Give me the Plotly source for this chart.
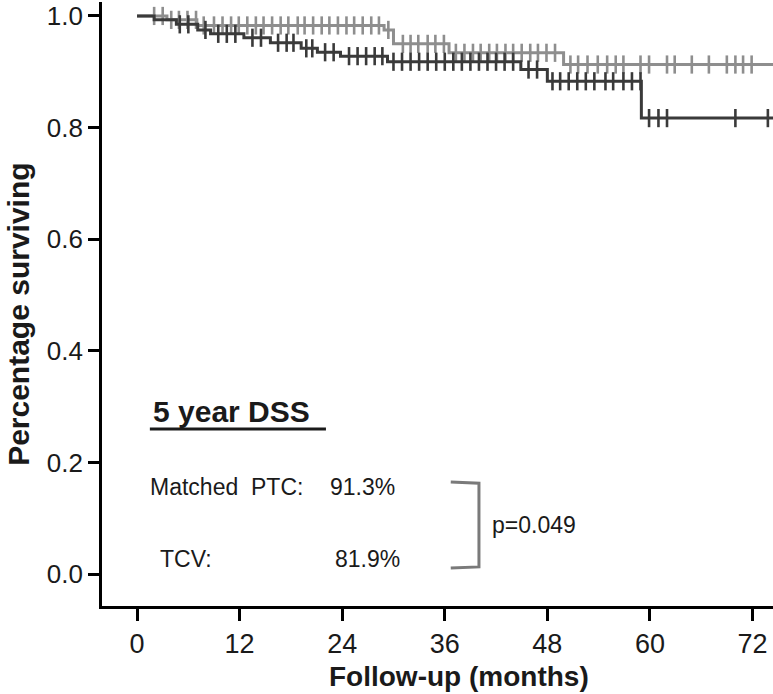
import plotly.graph_objects as go

# ---- data ----
ptc_times = [0, 3.5, 7.0, 28.9, 30.0, 36.5, 49.9, 74.4]
ptc_surv = [1.0, 0.993, 0.983, 0.975, 0.950, 0.934, 0.913, 0.913]
ptc_censored = [2.0, 3.0, 4.0, 4.9, 5.9, 6.9, 7.8, 9.0, 10.0, 11.0, 11.9, 12.9, 13.9, 14.8,
                 15.8, 16.8, 17.7, 18.8, 19.6, 20.6, 21.6, 22.5, 23.5, 24.5, 25.4, 26.4,
                 27.4, 28.3, 29.4, 31.1, 32.0, 32.9, 34.0, 34.9, 35.9, 37.3, 38.3, 39.3, 40.2,
                 41.2, 42.1, 43.1, 44.0, 45.0, 46.0, 46.9, 47.9, 48.9, 50.7, 51.6, 52.7,
                 53.9, 55.0, 56.0, 56.9, 58.9, 59.9, 62.0, 62.9, 64.9, 66.9, 69.0, 70.0,
                 70.9, 71.9]

tcv_times = [0, 2.0, 4.6, 7.1, 8.6, 12.5, 15.6, 19.2, 21.1, 23.8, 29.3, 44.9, 48.0, 59.0, 74.4]
tcv_surv = [1.0, 0.993, 0.985, 0.975, 0.968, 0.961, 0.952, 0.942, 0.935, 0.928, 0.918,
            0.904, 0.883, 0.817, 0.817]
tcv_censored = [5.0, 6.0, 8.0, 9.5, 10.5, 11.5, 13.5, 14.5, 16.5, 17.5, 18.3, 19.8, 20.5,
                22.0, 23.0, 24.8, 25.8, 26.8, 27.8, 28.7, 30.0, 31.0, 32.0, 33.0, 34.0,
                35.0, 36.0, 37.0, 38.0, 39.0, 40.0, 41.0, 42.0, 43.0, 44.0, 45.8, 46.8,
                48.6, 49.5, 50.5, 51.5, 52.5, 53.5, 54.8, 55.7, 56.9, 57.9, 58.9, 59.9,
                61.0, 62.0, 70.0, 73.8]

x_ticks = [0, 12, 24, 36, 48, 60, 72]
y_ticks = [0.0, 0.2, 0.4, 0.6, 0.8, 1.0]
y_ticklabels = ["0.0", "0.2", "0.4", "0.6", "0.8", "1.0"]

group_names = ["Matched PTC", "TCV"]
dss_values = ["91.3%", "81.9%"]
p_value = "p=0.049"


def surv_at(times, surv, t):
    val = surv[0]
    for ti, si in zip(times, surv):
        if ti <= t:
            val = si
    return val


LIGHT = "#8e8e8e"
DARK = "#3a3a3a"

fig = go.Figure()
for times, surv, cens, col in [(ptc_times, ptc_surv, ptc_censored, LIGHT),
                               (tcv_times, tcv_surv, tcv_censored, DARK)]:
    fig.add_trace(go.Scatter(x=times, y=surv, mode="lines", line=dict(color=col, width=3, shape="hv"),
                             showlegend=False, hoverinfo="skip"))
    fig.add_trace(go.Scatter(x=cens, y=[surv_at(times, surv, c) for c in cens], mode="markers",
                             marker=dict(symbol="line-ns", size=13, line=dict(color=col, width=2.6)),
                             showlegend=False, hoverinfo="skip"))

TXT = "Liberation Sans, Arial, sans-serif"
INK = "#1a1a1a"

fig.update_layout(
    width=773, height=694,
    margin=dict(l=102, r=0, t=2, b=88),
    paper_bgcolor="white", plot_bgcolor="white",
    xaxis=dict(range=[-4.1, 74.4], tickvals=x_ticks, ticktext=[str(v) for v in x_ticks],
               showgrid=False, zeroline=False, showline=True, linecolor="black", linewidth=2.7,
               ticks="outside", ticklen=12, tickwidth=2.7, tickcolor="black",
               tickfont=dict(family=TXT, size=27, color=INK)),
    yaxis=dict(range=[-0.057, 1.025], tickvals=y_ticks, ticktext=y_ticklabels,
               showgrid=False, zeroline=False, showline=True, linecolor="black", linewidth=2.7,
               ticks="outside", ticklen=11, tickwidth=2.7, tickcolor="black",
               tickfont=dict(family=TXT, size=26, color=INK)),
)

# axis titles
fig.add_annotation(xref="paper", yref="paper", x=0.532, y=0, yshift=-70, xanchor="center", yanchor="middle",
                   text="<b>Follow-up (months)</b>", showarrow=False,
                   font=dict(family=TXT, size=28, color=INK))
fig.add_annotation(xref="paper", yref="paper", x=0, xshift=-83, y=0.482, xanchor="center", yanchor="middle",
                   text="<b>Percentage surviving</b>", textangle=-90, showarrow=False,
                   font=dict(family=TXT, size=30, color=INK))

# inset text
fig.add_annotation(x=1.6, y=0.292, xanchor="left", yanchor="middle", text="<b>5 year DSS</b>",
                   showarrow=False, font=dict(family=TXT, size=30, color=INK))
fig.add_shape(type="line", x0=1.5, x1=22.1, y0=0.260, y1=0.260, line=dict(color=INK, width=3))
fig.add_annotation(x=1.3, y=0.156, xanchor="left", yanchor="middle",
                   text=group_names[0].replace(" ", "&nbsp;&nbsp;") + ":",
                   showarrow=False, font=dict(family=TXT, size=23, color=INK))
fig.add_annotation(x=22.3, y=0.156, xanchor="left", yanchor="middle", text=dss_values[0],
                   showarrow=False, font=dict(family=TXT, size=23, color=INK))
fig.add_annotation(x=2.5, y=0.027, xanchor="left", yanchor="middle", text=group_names[1] + ":",
                   showarrow=False, font=dict(family=TXT, size=23, color=INK))
fig.add_annotation(x=22.9, y=0.027, xanchor="left", yanchor="middle", text=dss_values[1],
                   showarrow=False, font=dict(family=TXT, size=23, color=INK))
fig.add_shape(type="path", path="M 36.7 0.165 L 40.0 0.163 L 40.0 0.013 L 36.7 0.011",
              line=dict(color="#7a7a7a", width=3))
fig.add_annotation(x=41.3, y=0.088, xanchor="left", yanchor="middle", text=p_value,
                   showarrow=False, font=dict(family=TXT, size=23, color=INK))

fig.write_html("out.html", config={"displayModeBar": False},
               post_script="document.body.style.margin='0';")
